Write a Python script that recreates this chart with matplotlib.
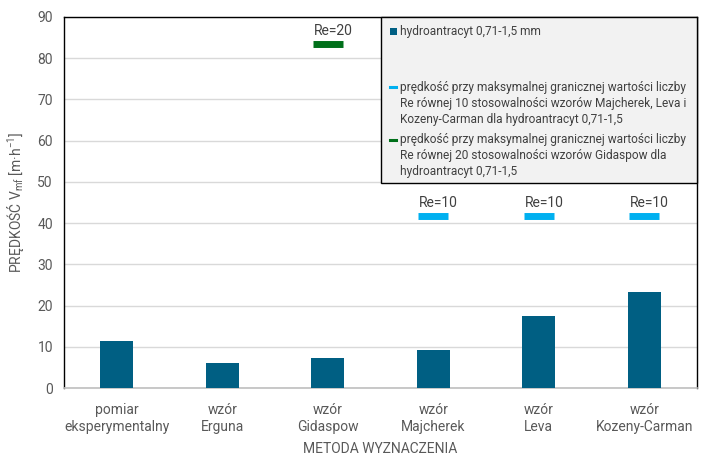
import numpy as np
import matplotlib.pyplot as plt
from matplotlib.patches import Rectangle
from matplotlib.lines import Line2D

plt.rcParams['font.family'] = ['Roboto', 'DejaVu Sans']

# data
categories = ['pomiar\neksperymentalny', 'wzór\nErguna', 'wzór\nGidaspow',
              'wzór\nMajcherek', 'wzór\nLeva', 'wzór\nKozeny-Carman']
velocity = [11.4, 6.0, 7.2, 9.3, 17.5, 23.3]
re10_limit = [np.nan, np.nan, np.nan, 41.8, 41.8, 41.8]
re20_limit = [np.nan, np.nan, 83.5, np.nan, np.nan, np.nan]

bar_color = '#005F83'
re10_color = '#00B0F0'
re20_color = '#00701A'
text_color = '#595959'

fig = plt.figure(figsize=(7.02, 4.68), dpi=100)
ax = fig.add_axes([64 / 702, 1 - 388 / 468, (697 - 64) / 702, (388 - 17) / 468])

x = np.arange(len(categories))
ax.bar(x, velocity, width=0.31, color=bar_color, zorder=3)

ax.plot(x, re10_limit, linestyle='none', marker='_', ms=22, mew=5, color=re10_color, zorder=4)
ax.plot(x, re20_limit, linestyle='none', marker='_', ms=22, mew=5, color=re20_color, zorder=4)

for xi, v in zip(x, re10_limit):
    if not np.isnan(v):
        ax.annotate('Re=10', (xi, v), xytext=(4, 4), textcoords='offset points',
                    ha='center', va='bottom', fontsize=10, color='#404040')
for xi, v in zip(x, re20_limit):
    if not np.isnan(v):
        ax.annotate('Re=20', (xi, v), xytext=(4, 4), textcoords='offset points',
                    ha='center', va='bottom', fontsize=10, color='#404040')

ax.set_xlim(-0.5, len(categories) - 0.5)
ax.set_ylim(0, 90)
ax.set_yticks(np.arange(0, 91, 10))
ax.set_xticks(x)
ax.set_xticklabels(categories, fontsize=10, color=text_color, linespacing=1.25)
ax.tick_params(axis='y', labelsize=10, labelcolor=text_color, length=0, pad=8)
ax.tick_params(axis='x', length=0, pad=11)
ax.grid(axis='y', color='#D9D9D9', linewidth=1, zorder=0)

for side in ['left', 'top', 'right']:
    ax.spines[side].set_color('black')
    ax.spines[side].set_linewidth(1)
ax.spines['bottom'].set_color('#BFBFBF')
ax.spines['bottom'].set_linewidth(1.2)

ax.set_xlabel('METODA WYZNACZENIA', fontsize=10, color=text_color, labelpad=6)
ax.set_ylabel(r'PRĘDKOŚĆ V$_{\mathregular{mf}}$ [m·h$^{\mathregular{-1}}$]',
              fontsize=10, color=text_color, labelpad=8)

# legend box drawn by hand, in pixel positions of the figure
def fx(px):
    return px / 702

def fy(py):
    return 1 - py / 468

fig.patches.append(Rectangle((fx(381), fy(183)), fx(697) - fx(381), fy(17) - fy(183),
                             transform=fig.transFigure, facecolor='#F2F2F2',
                             edgecolor='black', linewidth=1, zorder=5))

leg_fs = 8.6
leg_color = '#404040'
fig.patches.append(Rectangle((fx(390), fy(35)), fx(397) - fx(390), fy(28) - fy(35),
                             transform=fig.transFigure, facecolor=bar_color,
                             edgecolor='none', zorder=6))
fig.text(fx(400), fy(31), 'hydroantracyt 0,71-1,5 mm', fontsize=leg_fs,
         color=leg_color, va='center', zorder=6)

entries = [
    (re10_color, 87, ['prędkość przy maksymalnej granicznej wartości liczby',
                      'Re równej 10 stosowalności wzorów Majcherek, Leva i',
                      'Kozeny-Carman dla hydroantracyt 0,71-1,5']),
    (re20_color, 140, ['prędkość przy maksymalnej granicznej wartości liczby',
                       'Re równej 20 stosowalności wzorów Gidaspow dla',
                       'hydroantracyt 0,71-1,5']),
]
for col, y0, lines in entries:
    fig.lines.append(Line2D([fx(390), fx(396)], [fy(y0), fy(y0)], transform=fig.transFigure,
                            color=col, linewidth=2.2, zorder=6))
    for k, line in enumerate(lines):
        fig.text(fx(400), fy(y0 + 16 * k), line, fontsize=leg_fs,
                 color=leg_color, va='center', zorder=6)

fig.savefig('out.png', dpi=100)
